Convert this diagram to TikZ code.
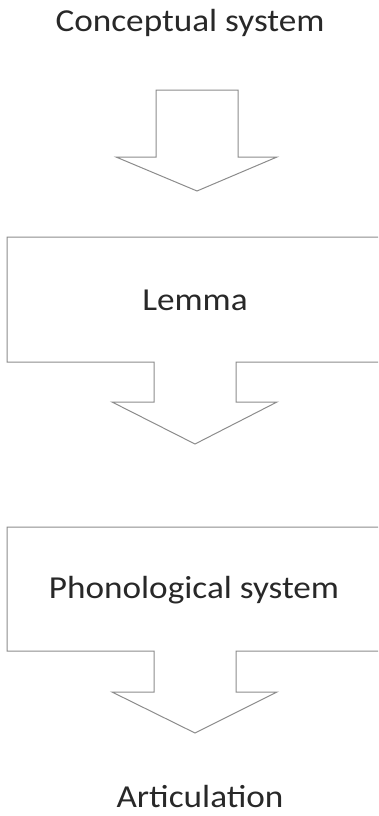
\documentclass[tikz,border=0pt]{standalone}
\usepackage{fontspec}
\setmainfont[FakeStretch=1.1]{Carlito}
\definecolor{edge}{RGB}{140,140,140}
\definecolor{ink}{RGB}{40,40,40}
\begin{document}
\begin{tikzpicture}[x=1pt,y=-1pt,
  shapeline/.style={draw=edge,line width=1pt,fill=white,line join=miter},
  label/.style={text=ink,font=\fontsize{32}{38}\selectfont,inner sep=0pt,anchor=base}]
\useasboundingbox (0,0) rectangle (378,816);
\clip (0,0) rectangle (378,816);
% arrow 1
\draw[shapeline] (156,90) -- (238,90) -- (238,157) -- (277,157) -- (197,191) -- (116,157) -- (156,157) -- cycle;
% Lemma box with arrow
\draw[shapeline] (7,237) -- (385,237) -- (385,362) -- (236,362) -- (236,402) -- (277,402) -- (195,444) -- (112,402) -- (154,402) -- (154,362) -- (7,362) -- cycle;
% Phonological box with arrow
\draw[shapeline] (7,527) -- (385,527) -- (385,651) -- (236,651) -- (236,692) -- (277,692) -- (195,733) -- (112,692) -- (154,692) -- (154,651) -- (7,651) -- cycle;
\node[label] (concept) at (190,32) {Conceptual system};
\node[label] (lemma) at (195,310) {Lemma};
\node[label] (phon) at (194,598) {Phonological system};
\node[label] (artic) at (200,807) {Articulation};
\end{tikzpicture}
\end{document}
